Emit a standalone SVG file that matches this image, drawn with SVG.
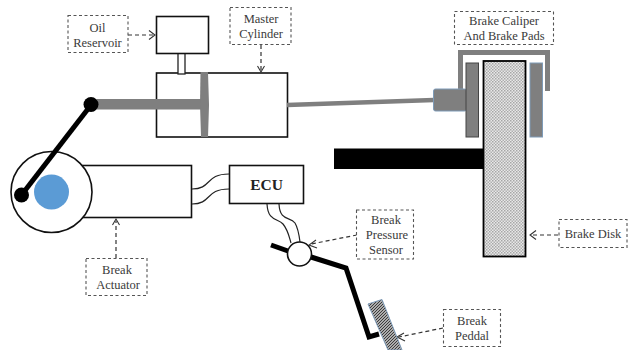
<svg xmlns="http://www.w3.org/2000/svg" width="630" height="350" viewBox="0 0 630 350">
<style>
.box{fill:#fff;stroke:#111;stroke-width:1.600}
.lab{fill:#fff;stroke:#555;stroke-width:1.100;stroke-dasharray:3 2.500}
text{font-family:"Liberation Serif","Times New Roman",serif;font-size:12.500px;fill:#3a3a3a;text-anchor:middle}
.dash{fill:none;stroke:#333;stroke-width:1.200;stroke-dasharray:4 3}
.head{fill:none;stroke:#333;stroke-width:1.100}
.wire{fill:none;stroke:#222;stroke-width:1.200}
</style>
<defs>
<pattern id="dots" width="3" height="3" patternUnits="userSpaceOnUse"><rect width="3" height="3" fill="#e8e8e8"/><rect width="1.500" height="1.500" fill="#a6a6a6"/><rect x="1.500" y="1.500" width="1.500" height="1.500" fill="#b0b0b0"/></pattern>
<pattern id="hatch" width="3" height="3" patternUnits="userSpaceOnUse"><rect width="3" height="3" fill="#ddd"/><path d="M-1 1L1-1M0 3L3 0M2 4L4 2" stroke="#333" stroke-width="1.100"/></pattern>
</defs>
<rect x="0" y="0" width="630" height="350" fill="#fff"/>

<g id="master-cylinder">
<rect class="box" x="156.500" y="73" width="131" height="64"/>
<rect x="178" y="53" width="7" height="21" fill="#fff" stroke="#222" stroke-width="1.300"/>
<rect x="97" y="99" width="105" height="10.500" fill="#7f7f7f"/>
<path d="M200.500 72H208L209 105L208 137H201L200 105Z" fill="#7f7f7f"/>
</g>
<g id="oil-reservoir-tank"><rect class="box" x="156.500" y="16.500" width="52" height="37"/></g>
<g id="rod"><path d="M287 105L434 100" stroke="#7f7f7f" stroke-width="4.500" fill="none"/></g>
<g id="caliper">
<path d="M460.500 89V52.500H547.500V91" fill="none" stroke="#7f7f7f" stroke-width="5"/>
<rect x="433.500" y="89" width="33" height="22" rx="2" fill="#7f7f7f" stroke="#7e9bb8" stroke-width="1"/>
<rect x="466" y="63" width="12.500" height="74" fill="#7f7f7f" stroke="#444" stroke-width="1"/>
<rect x="530" y="63" width="12.500" height="74" fill="#7f7f7f" stroke="#7e9bb8" stroke-width="1"/>
</g>
<g id="axle"><rect x="334" y="148.500" width="150" height="20.500" fill="#000"/></g>
<g id="brake-disk"><rect x="483.500" y="61" width="42" height="195.500" fill="url(#dots)" stroke="#000" stroke-width="1.800"/></g>

<g id="actuator">
<rect class="box" x="70" y="165.500" width="121.500" height="52"/>
<circle cx="51.500" cy="192" r="40.500" fill="#fff" stroke="#111" stroke-width="1.600"/>
<circle cx="51.500" cy="192" r="17.500" fill="#5b9bd5"/>
<path d="M21.500 195L91 105" stroke="#000" stroke-width="5" fill="none"/>
<circle cx="21.500" cy="195" r="7.500" fill="#000"/>
<circle cx="91" cy="104.500" r="7.500" fill="#000"/>
</g>
<g id="ecu">
<rect class="box" x="229.500" y="165.500" width="74" height="38"/>
<text x="266.500" y="190" style="font-weight:bold;font-size:15.500px;fill:#222">ECU</text>
</g>
<g id="connectors">
<path class="wire" d="M192 189C212 189 205 174 229 174"/>
<path class="wire" d="M192 204C212 204 205 189 229 189"/>
<path class="wire" d="M267 204C268 222 278 218 283 224C288 230 289 236 291 243"/>
<path class="wire" d="M279 204C280 222 290 216 295 223C298 228 299 234 300 242"/>
<path class="dash" d="M128 35H154"/><path class="head" d="M149 30.500L155 35L149 39.500"/>
<path class="dash" d="M261 45V71"/><path class="head" d="M257.500 66L261 72L264.500 66"/>
<path class="dash" d="M116 258V221"/><path class="head" d="M112.500 225L116 219L119.500 225"/>
<path class="dash" d="M357 235L311 244"/><path class="head" d="M316 240L309 245L317 248"/>
<path class="dash" d="M443 328L399 337"/><path class="head" d="M404 333L397 337L405 341"/>
<path class="dash" d="M558 235H531"/><path class="head" d="M536 230.500L530 235L536 239.500"/>
</g>
<g id="pedal">
<path d="M271 245L288 251" stroke="#000" stroke-width="5" fill="none"/>
<path d="M311 257L346 268L369 337L379 334" stroke="#000" stroke-width="5" fill="none"/>
<circle cx="299.500" cy="254" r="12" fill="#fff" stroke="#111" stroke-width="1.600"/>
<path d="M368 304L382 299.500L402 350H388Z" fill="url(#hatch)" stroke="#7e9bb8" stroke-width="1"/>
</g>
<g id="label-oil"><rect class="lab" x="68" y="15.500" width="60" height="37"/><text x="97.500" y="32">Oil</text><text x="97.500" y="47">Reservoir</text></g>
<g id="label-master"><rect class="lab" x="230" y="7.500" width="61" height="37"/><text x="261" y="23">Master</text><text x="261" y="38">Cylinder</text></g>
<g id="label-caliper"><rect class="lab" x="454.500" y="11.500" width="99" height="33"/><text x="504" y="25">Brake Caliper</text><text x="504" y="40">And Brake Pads</text></g>
<g id="label-actuator"><rect class="lab" x="86" y="258.500" width="61" height="37"/><text x="117" y="274">Break</text><text x="118" y="289">Actuator</text></g>
<g id="label-sensor"><rect class="lab" x="356.500" y="210" width="57" height="49"/><text x="386" y="224">Break</text><text x="387" y="239">Pressure</text><text x="386" y="254">Sensor</text></g>
<g id="label-pedal"><rect class="lab" x="443.500" y="309.500" width="57" height="37"/><text x="472" y="325">Break</text><text x="472" y="340">Peddal</text></g>
<g id="label-disk"><rect class="lab" x="559" y="219.500" width="68" height="28"/><text x="593" y="238">Brake Disk</text></g>
</svg>
